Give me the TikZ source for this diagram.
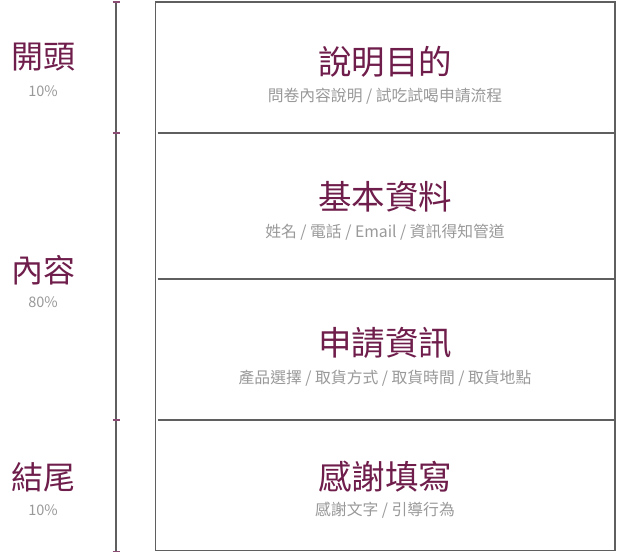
\documentclass[tikz,border=0pt]{standalone}
\usepackage{fontspec}
\setmainfont{Noto Sans CJK TC}
\definecolor{ttl}{HTML}{6F1D4B}
\definecolor{sub}{HTML}{999999}
\definecolor{ln}{HTML}{5F5F5F}
\definecolor{tick}{HTML}{8A4C72}
\tikzset{
  title/.style={text=ttl,font=\fontsize{33.5}{33.5}\selectfont,inner sep=0pt,anchor=center},
  subt/.style={text=sub,font=\fontsize{15.8}{15.8}\selectfont,inner sep=0pt,anchor=center},
  side/.style={text=ttl,font=\fontsize{32}{32}\selectfont,inner sep=0pt,anchor=center},
  pct/.style={text=sub,font=\fontsize{14.5}{14.5}\selectfont,inner sep=0pt,anchor=center},
  frame/.style={draw=ln,line width=1.1pt},
  brk/.style={draw=ln,line width=1.3pt},
  tk/.style={draw=tick,line width=1.3pt}
}
\begin{document}
\begin{tikzpicture}[x=1pt,y=-1pt]
\useasboundingbox (0,0) rectangle (617,554);
% frame
\coordinate (tl) at (155.5,2);
\coordinate (br) at (615,550.5);
\draw[frame] (tl) rectangle (br);
\foreach \y/\n in {133/a,279/b,420/c}{
  \coordinate (d\n l) at (157.5,\y);
  \coordinate (d\n r) at (615,\y);
  \draw[frame] (d\n l) -- (d\n r);
}
% bracket
\coordinate (bt) at (116,2);
\coordinate (bb) at (116,552);
\draw[brk] (bt) -- (bb);
\foreach \y/\n in {2/1,133/2,420/3,551.5/4}{
  \coordinate (t\n l) at (112.5,\y);
  \coordinate (t\n r) at (119.5,\y);
  \draw[tk] (t\n l) -- (t\n r);
}
% section texts
\node[title] (s1) at (385,62) {說明目的};
\node[subt] (s1s) at (385,96) {問卷內容說明 / 試吃試喝申請流程};
\node[title] (s2) at (385,197) {基本資料};
\node[subt] (s2s) at (385,232) {姓名 / 電話 / Email / 資訊得知管道};
\node[title] (s3) at (385,343) {申請資訊};
\node[subt] (s3s) at (385,378) {產品選擇 / 取貨方式 / 取貨時間 / 取貨地點};
\node[title] (s4) at (385,477) {感謝填寫};
\node[subt] (s4s) at (385,510) {感謝文字 / 引導行為};
% side labels
\node[side] (l1) at (43,57) {開頭};
\node[pct] (l1p) at (43,91) {10\%};
\node[side] (l2) at (43,270) {內容};
\node[pct] (l2p) at (43,302) {80\%};
\node[side] (l3) at (43,477) {結尾};
\node[pct] (l3p) at (43,510) {10\%};
\end{tikzpicture}
\end{document}
